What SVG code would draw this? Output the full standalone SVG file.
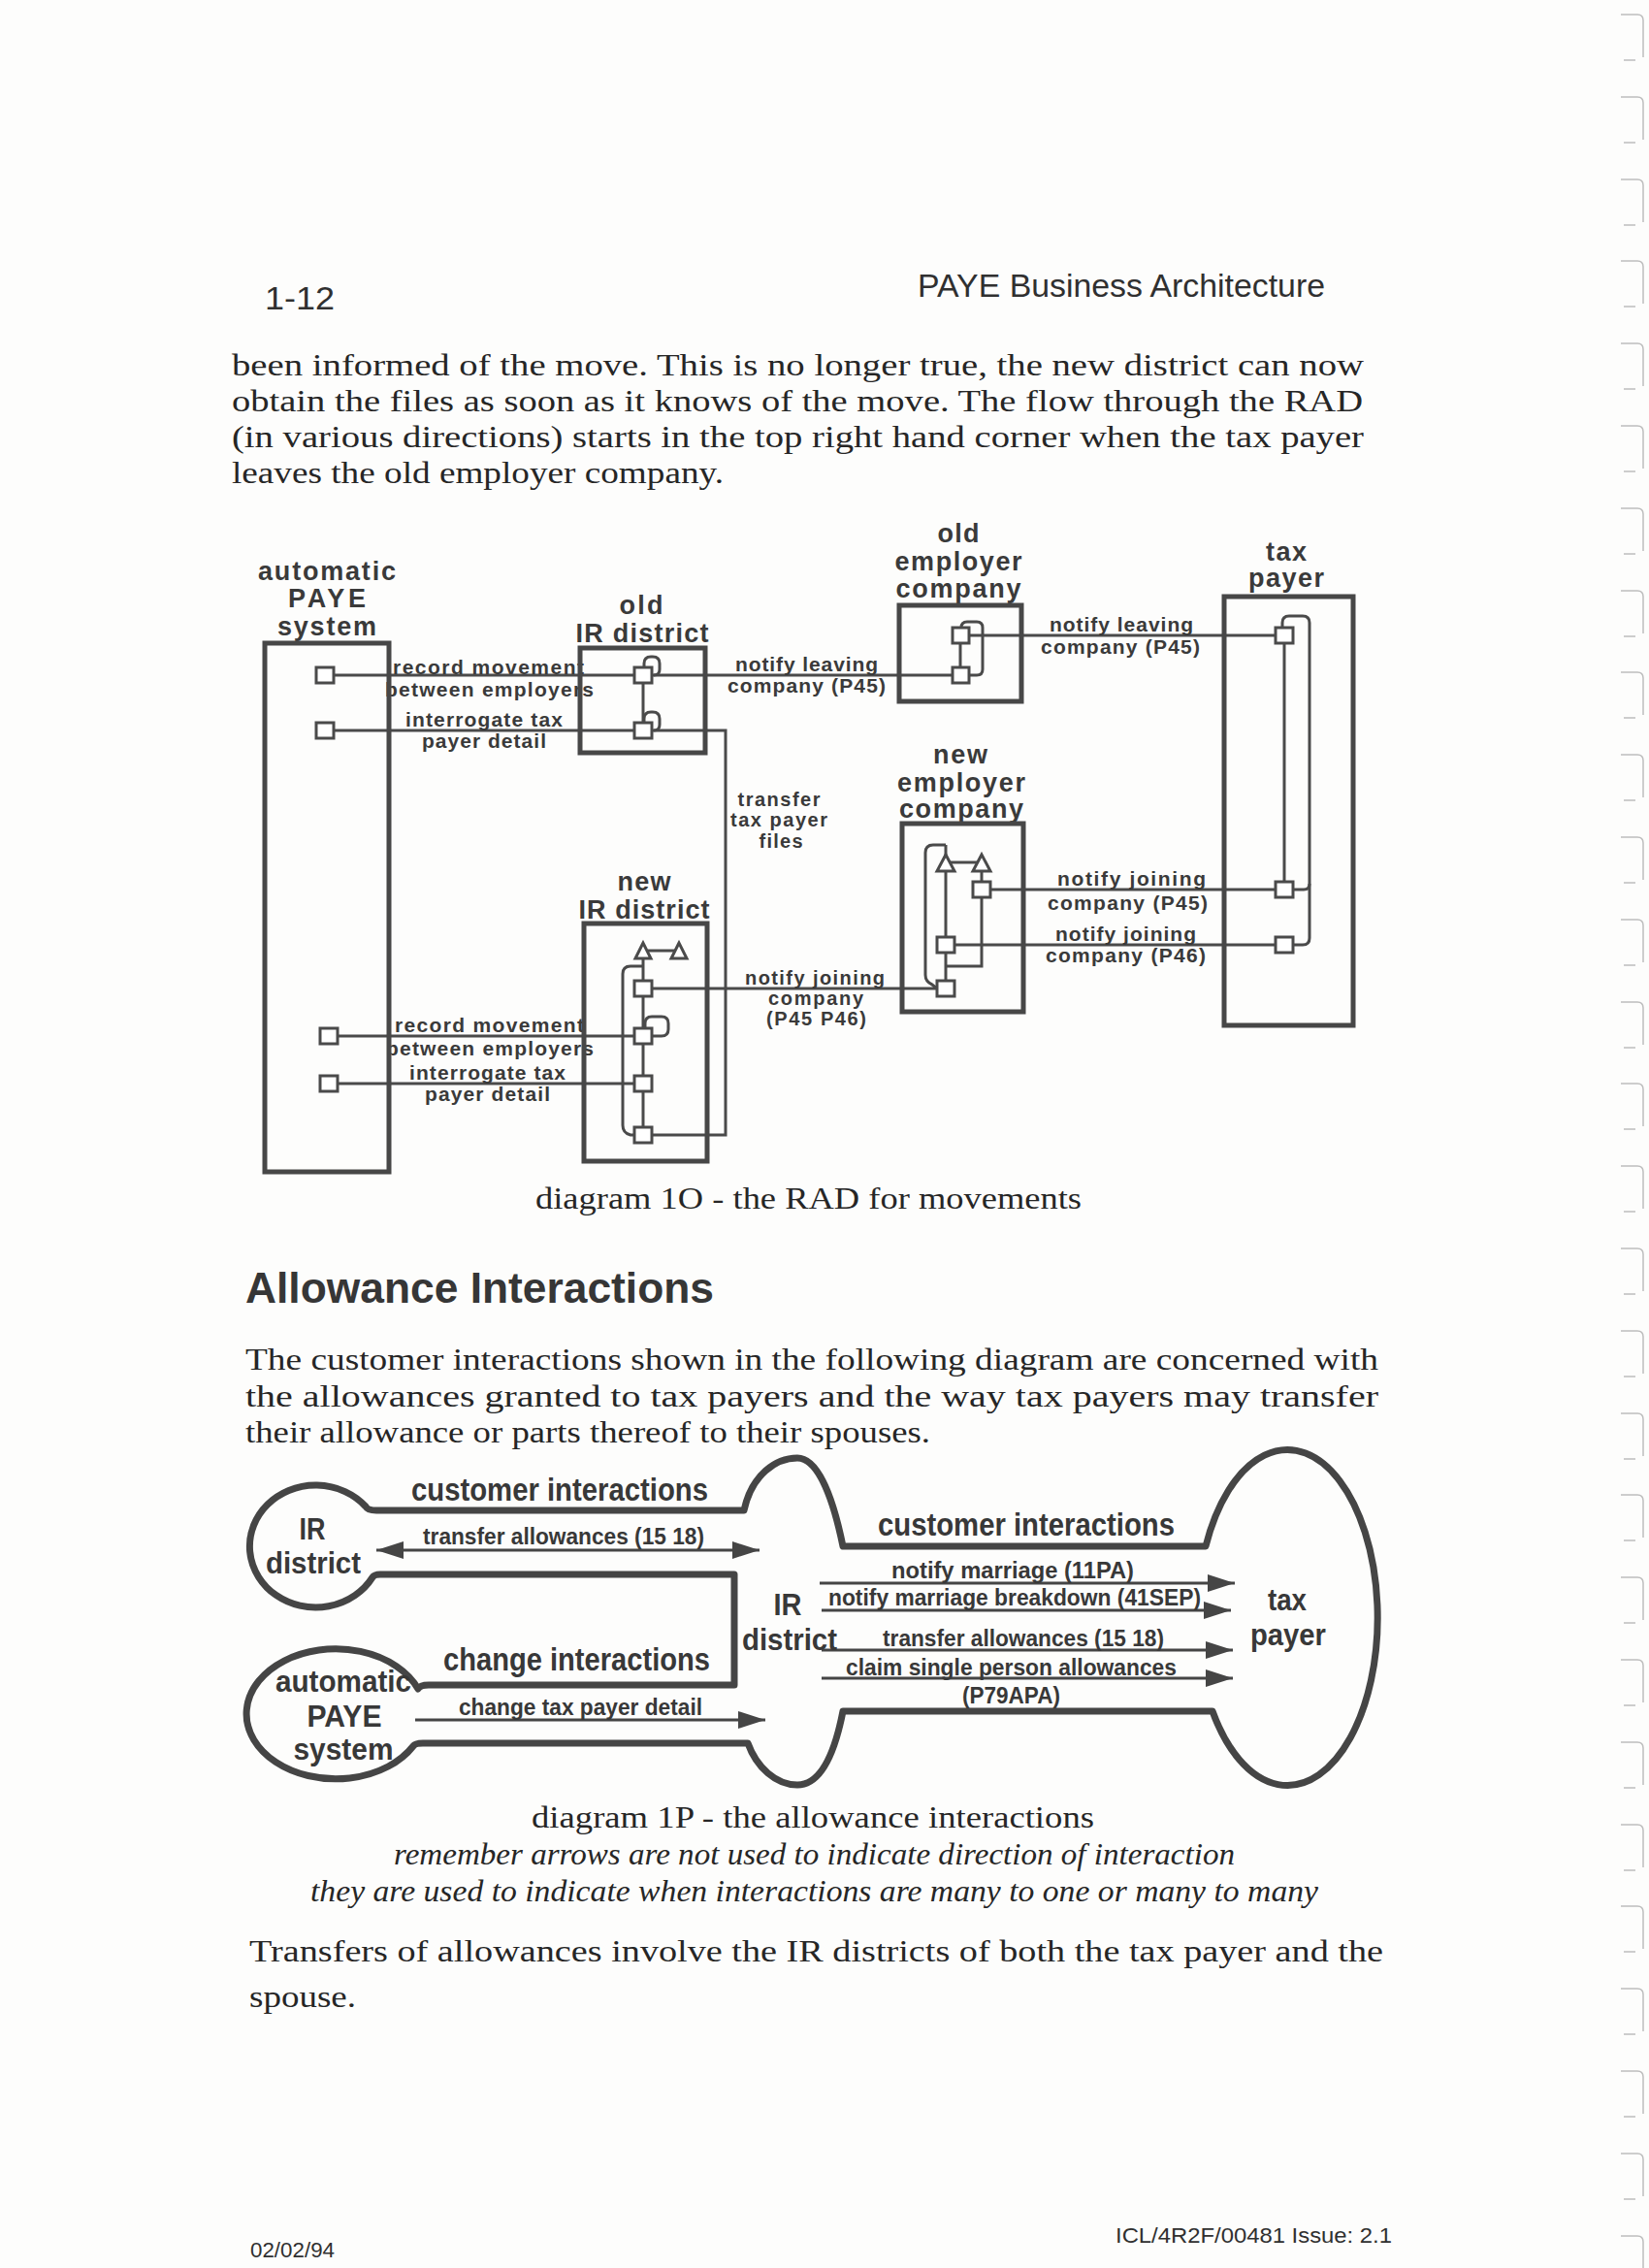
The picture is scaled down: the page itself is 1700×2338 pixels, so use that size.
<svg xmlns="http://www.w3.org/2000/svg" xmlns:xlink="http://www.w3.org/1999/xlink" width="1700" height="2338" viewBox="0 0 1700 2338">
<style>
.bg{fill:#fdfdfc}
.box{fill:none;stroke:#474747;stroke-width:5}
.ln{fill:none;stroke:#4a4a4a;stroke-width:3}
.sq{fill:#fff;stroke:#4a4a4a;stroke-width:3}
.tri{fill:#fff;stroke:#4a4a4a;stroke-width:3}
.nt{font-family:"Liberation Sans",Arial,sans-serif;font-weight:bold;font-size:27px;fill:#3a3a3a;text-anchor:middle}
.lb{font-family:"Liberation Sans",Arial,sans-serif;font-weight:bold;font-size:21px;fill:#3a3a3a}
.lbs{font-family:"Liberation Sans",Arial,sans-serif;font-weight:bold;font-size:20px;fill:#3a3a3a}
.lbm{font-family:"Liberation Sans",Arial,sans-serif;font-weight:bold;font-size:20px;fill:#3a3a3a;text-anchor:middle}
.ol{fill:none;stroke:#454545;stroke-width:7;stroke-linejoin:round}
.ar{fill:none;stroke:#454545;stroke-width:3}
.an{font-family:"Liberation Sans",Arial,sans-serif;font-weight:bold;font-size:32px;fill:#383838;text-anchor:middle}
.ah{font-family:"Liberation Sans",Arial,sans-serif;font-weight:bold;font-size:33px;fill:#383838}
.aa{font-family:"Liberation Sans",Arial,sans-serif;font-weight:bold;font-size:23px;fill:#383838}
.body{font-family:"Liberation Serif","Times New Roman",serif;font-size:31px;fill:#262626}
.it{font-style:italic}
.hd{font-family:"Liberation Sans",Arial,sans-serif;font-size:33px;fill:#303030}
.h2{font-family:"Liberation Sans",Arial,sans-serif;font-weight:bold;font-size:45px;fill:#363636}
.ft{font-family:"Liberation Sans",Arial,sans-serif;font-size:22px;fill:#303030}
.tab{fill:none;stroke:#bdbdbd;stroke-width:1.5}
</style>
<defs>
<marker id="ahd" markerUnits="userSpaceOnUse" markerWidth="28" markerHeight="18" viewBox="0 0 28 18" refX="28" refY="9" orient="auto-start-reverse">
<path d="M0 0 L28 9 L0 18 Z" fill="#454545"/>
</marker>
<path id="tabmark" d="M1671 0 H1688 Q1694 0 1694 6 V44 M1674 47 H1686"/>
</defs>
<rect class="bg" x="0" y="0" width="1700" height="2338"/>

<g id="page-tabs" class="tab">
<use href="#tabmark" y="15"/><use href="#tabmark" y="100"/><use href="#tabmark" y="185"/><use href="#tabmark" y="269"/>
<use href="#tabmark" y="354"/><use href="#tabmark" y="439"/><use href="#tabmark" y="524"/><use href="#tabmark" y="609"/>
<use href="#tabmark" y="693"/><use href="#tabmark" y="778"/><use href="#tabmark" y="863"/><use href="#tabmark" y="948"/>
<use href="#tabmark" y="1033"/><use href="#tabmark" y="1117"/><use href="#tabmark" y="1202"/><use href="#tabmark" y="1287"/>
<use href="#tabmark" y="1372"/><use href="#tabmark" y="1457"/><use href="#tabmark" y="1541"/><use href="#tabmark" y="1626"/>
<use href="#tabmark" y="1711"/><use href="#tabmark" y="1796"/><use href="#tabmark" y="1881"/><use href="#tabmark" y="1965"/>
<use href="#tabmark" y="2050"/><use href="#tabmark" y="2135"/><use href="#tabmark" y="2220"/><use href="#tabmark" y="2305"/>
</g>

<g id="page-header">
<text class="hd" x="273" y="319" textLength="72" lengthAdjust="spacingAndGlyphs">1-12</text>
<text class="hd" x="946" y="306" textLength="420" lengthAdjust="spacingAndGlyphs">PAYE Business Architecture</text>
</g>

<g id="para-1" class="body">
<text x="239" y="387" textLength="1167" lengthAdjust="spacingAndGlyphs">been informed of the move.  This is no longer true, the new district can now</text>
<text x="239" y="424" textLength="1166" lengthAdjust="spacingAndGlyphs">obtain the files as soon as it knows of the move.  The flow through the RAD</text>
<text x="239" y="461" textLength="1167" lengthAdjust="spacingAndGlyphs">(in various directions) starts in the top right hand corner when the tax payer</text>
<text x="239" y="498" textLength="507" lengthAdjust="spacingAndGlyphs">leaves the old employer company.</text>
</g>

<!-- ================= RAD diagram 1O ================= -->
<g id="rad-connectors">
<path class="ln" d="M344 696 H654"/>
<path class="ln" d="M672 696 H982"/>
<path class="ln" d="M344 753 H654"/>
<path class="ln" d="M672 753 H748 V1170 H672"/>
<path class="ln" d="M999 655 H1315"/>
<path class="ln" d="M1021 917 H1315"/>
<path class="ln" d="M984 974 H1315"/>
<path class="ln" d="M672 1019 H966"/>
<path class="ln" d="M348 1068 H654"/>
<path class="ln" d="M348 1117 H654"/>
</g>

<g id="rad-labels">
<text class="lb" x="405" y="695" textLength="197">record movement</text>
<text class="lb" x="397" y="718" textLength="215">between employers</text>
<text class="lb" x="418" y="749" textLength="162">interrogate tax</text>
<text class="lb" x="435" y="771" textLength="128">payer detail</text>
<text class="lb" x="407" y="1064" textLength="195">record movement</text>
<text class="lb" x="398" y="1088" textLength="214">between employers</text>
<text class="lb" x="422" y="1113" textLength="161">interrogate tax</text>
<text class="lb" x="438" y="1135" textLength="129">payer detail</text>
<text class="lb" x="758" y="692" textLength="147">notify leaving</text>
<text class="lb" x="750" y="714" textLength="163">company (P45)</text>
<text class="lb" x="1082" y="651" textLength="148">notify leaving</text>
<text class="lb" x="1073" y="674" textLength="164">company (P45)</text>
<text class="lbm" x="803" y="831" textLength="85">transfer</text>
<text class="lbm" x="803" y="852" textLength="100">tax payer</text>
<text class="lbm" x="805" y="874" textLength="45">files</text>
<text class="lbs" x="768" y="1015" textLength="144">notify joining</text>
<text class="lbs" x="792" y="1036" textLength="98">company</text>
<text class="lbs" x="790" y="1057" textLength="103">(P45 P46)</text>
<text class="lb" x="1090" y="913" textLength="153">notify joining</text>
<text class="lb" x="1080" y="938" textLength="165">company (P45)</text>
<text class="lb" x="1088" y="970" textLength="145">notify joining</text>
<text class="lb" x="1078" y="992" textLength="165">company (P46)</text>
</g>

<g id="node-automatic-paye-system">
<text class="nt" x="337" y="598" textLength="142">automatic</text>
<text class="nt" x="337" y="626" textLength="80">PAYE</text>
<text class="nt" x="337" y="655" textLength="102">system</text>
<rect class="box" x="273" y="663" width="128" height="545"/>
<rect class="sq" x="326" y="688" width="18" height="16"/>
<rect class="sq" x="326" y="745" width="18" height="16"/>
<rect class="sq" x="330" y="1060" width="18" height="16"/>
<rect class="sq" x="330" y="1109" width="18" height="16"/>
</g>

<g id="node-old-ir-district">
<text class="nt" x="661" y="633" textLength="45">old</text>
<text class="nt" x="662" y="662" textLength="137">IR district</text>
<rect class="box" x="598" y="668" width="129" height="108"/>
<path class="ln" d="M663 704 V745"/>
<path class="ln" d="M664 688 V684 Q664 677 671 677 H673 Q680 677 680 684 V690 Q680 696 674 696"/>
<path class="ln" d="M664 745 V741 Q664 734 671 734 H673 Q680 734 680 741 V747 Q680 753 674 753"/>
<rect class="sq" x="654" y="688" width="18" height="16"/>
<rect class="sq" x="654" y="745" width="18" height="16"/>
</g>

<g id="node-old-employer-company">
<text class="nt" x="988" y="559" textLength="43">old</text>
<text class="nt" x="988" y="588" textLength="131">employer</text>
<text class="nt" x="988" y="616" textLength="129">company</text>
<rect class="box" x="927" y="624" width="126" height="99"/>
<path class="ln" d="M990 663 V688"/>
<path class="ln" d="M991 647 V647 Q991 641 997 641 H1007 Q1013 641 1013 647 V690 Q1013 696 1007 696 H999"/>
<rect class="sq" x="982" y="647" width="17" height="16"/>
<rect class="sq" x="982" y="688" width="17" height="16"/>
</g>

<g id="node-tax-payer">
<text class="nt" x="1326" y="578" textLength="42">tax</text>
<text class="nt" x="1326" y="605" textLength="78">payer</text>
<rect class="box" x="1262" y="615" width="133" height="442"/>
<path class="ln" d="M1324 663 V909"/>
<path class="ln" d="M1322 647 V642 Q1322 635 1329 635 H1343 Q1350 635 1350 642 V967 Q1350 974 1343 974 H1333"/>
<path class="ln" d="M1333 917 H1344 Q1350 917 1350 911"/>
<rect class="sq" x="1315" y="647" width="18" height="16"/>
<rect class="sq" x="1315" y="909" width="18" height="16"/>
<rect class="sq" x="1315" y="966" width="18" height="16"/>
</g>

<g id="node-new-employer-company">
<text class="nt" x="990" y="787" textLength="56">new</text>
<text class="nt" x="991" y="816" textLength="132">employer</text>
<text class="nt" x="991" y="843" textLength="128">company</text>
<rect class="box" x="930" y="849" width="125" height="194"/>
<path class="ln" d="M975 871 V1011"/>
<path class="ln" d="M975 871 H962 Q954 871 954 879 V1005 Q954 1012 961 1015 L966 1019"/>
<path class="ln" d="M979 889 H1007"/>
<path class="ln" d="M1012 898 V909"/>
<path class="ln" d="M1012 925 V996 H975"/>
<polygon class="tri" points="975,881 966,898 984,898"/>
<polygon class="tri" points="1012,881 1003,898 1021,898"/>
<rect class="sq" x="1003" y="909" width="18" height="16"/>
<rect class="sq" x="966" y="966" width="18" height="16"/>
<rect class="sq" x="966" y="1011" width="18" height="16"/>
</g>

<g id="node-new-ir-district">
<text class="nt" x="664" y="918" textLength="55">new</text>
<text class="nt" x="664" y="947" textLength="135">IR district</text>
<rect class="box" x="602" y="952" width="127" height="245"/>
<path class="ln" d="M663 988 V1162"/>
<path class="ln" d="M663 996 H650 Q642 996 642 1004 V1160 Q642 1168 650 1170 H654"/>
<path class="ln" d="M668 980 H696"/>
<path class="ln" d="M665 1060 V1055 Q665 1048 672 1048 H682 Q689 1048 689 1055 V1061 Q689 1068 682 1068 H672"/>
<polygon class="tri" points="663,972 655,988 671,988"/>
<polygon class="tri" points="700,972 692,988 708,988"/>
<rect class="sq" x="654" y="1011" width="18" height="16"/>
<rect class="sq" x="654" y="1060" width="18" height="16"/>
<rect class="sq" x="654" y="1109" width="18" height="16"/>
<rect class="sq" x="654" y="1162" width="18" height="16"/>
</g>

<text class="body" x="552" y="1246" textLength="563" lengthAdjust="spacingAndGlyphs">diagram 1O - the RAD for movements</text>

<text class="h2" x="253" y="1343" textLength="483" lengthAdjust="spacingAndGlyphs">Allowance Interactions</text>

<g id="para-2" class="body">
<text x="253" y="1412" textLength="1168" lengthAdjust="spacingAndGlyphs">The customer interactions shown in the following diagram are concerned with</text>
<text x="253" y="1450" textLength="1168" lengthAdjust="spacingAndGlyphs">the allowances granted to tax payers and the way tax payers may transfer</text>
<text x="253" y="1487" textLength="706" lengthAdjust="spacingAndGlyphs">their allowance or parts thereof to their spouses.</text>
</g>

<!-- ================= Allowance diagram 1P ================= -->
<g id="allowance-outline">
<path class="ol" d="M388 1557 H767 C775 1520 800 1503 822 1503 C845 1503 860 1550 869 1594 H1243 A93 173 0 1 1 1250 1764 H869 C860 1810 845 1840 822 1840 C800 1840 780 1822 771 1797 H436 Q428 1797 426 1800 A92 67 0 1 1 431 1741 Q433 1737 442 1737 H757 V1623 H392 Q386 1623 384 1626 A68 63 0 1 1 377 1553 Q379 1557 388 1557 Z"/>
</g>

<g id="allowance-connectors">
<path class="ar" d="M388 1598 H783" marker-start="url(#ahd)" marker-end="url(#ahd)"/>
<path class="ar" d="M428 1773 H789" marker-end="url(#ahd)"/>
<path class="ar" d="M845 1632 H1273" marker-end="url(#ahd)"/>
<path class="ar" d="M847 1660 H1269" marker-end="url(#ahd)"/>
<path class="ar" d="M847 1701 H1271" marker-end="url(#ahd)"/>
<path class="ar" d="M847 1730 H1271" marker-end="url(#ahd)"/>
</g>

<g id="node-ir-district-left">
<text class="an" x="322" y="1587" textLength="27" lengthAdjust="spacingAndGlyphs">IR</text>
<text class="an" x="323" y="1622" textLength="98" lengthAdjust="spacingAndGlyphs">district</text>
</g>
<g id="node-automatic-paye">
<text class="an" x="354" y="1744" textLength="140" lengthAdjust="spacingAndGlyphs">automatic</text>
<text class="an" x="355" y="1780" textLength="77" lengthAdjust="spacingAndGlyphs">PAYE</text>
<text class="an" x="354" y="1814" textLength="103" lengthAdjust="spacingAndGlyphs">system</text>
</g>
<g id="node-ir-district-mid">
<text class="an" x="812" y="1665" textLength="29" lengthAdjust="spacingAndGlyphs">IR</text>
<text class="an" x="814" y="1701" textLength="98" lengthAdjust="spacingAndGlyphs">district</text>
</g>
<g id="node-tax-payer-ellipse">
<text class="an" x="1327" y="1660" textLength="40" lengthAdjust="spacingAndGlyphs">tax</text>
<text class="an" x="1328" y="1696" textLength="78" lengthAdjust="spacingAndGlyphs">payer</text>
</g>

<g id="allowance-labels">
<text class="ah" x="424" y="1547" textLength="306" lengthAdjust="spacingAndGlyphs">customer interactions</text>
<text class="aa" x="436" y="1592" textLength="290" lengthAdjust="spacingAndGlyphs">transfer allowances (15 18)</text>
<text class="ah" x="457" y="1722" textLength="275" lengthAdjust="spacingAndGlyphs">change interactions</text>
<text class="aa" x="473" y="1768" textLength="251" lengthAdjust="spacingAndGlyphs">change tax payer detail</text>
<text class="ah" x="905" y="1583" textLength="306" lengthAdjust="spacingAndGlyphs">customer interactions</text>
<text class="aa" x="919" y="1627" textLength="250" lengthAdjust="spacingAndGlyphs">notify marriage  (11PA)</text>
<text class="aa" x="854" y="1655" textLength="384" lengthAdjust="spacingAndGlyphs">notify marriage breakdown (41SEP)</text>
<text class="aa" x="910" y="1697" textLength="290" lengthAdjust="spacingAndGlyphs">transfer allowances (15 18)</text>
<text class="aa" x="872" y="1727" textLength="341" lengthAdjust="spacingAndGlyphs">claim single person allowances</text>
<text class="aa" x="992" y="1756" textLength="101" lengthAdjust="spacingAndGlyphs">(P79APA)</text>
</g>

<g id="captions" class="body">
<text x="548" y="1884" textLength="580" lengthAdjust="spacingAndGlyphs">diagram 1P - the allowance interactions</text>
<text class="it" x="406" y="1922" textLength="867" lengthAdjust="spacingAndGlyphs">remember arrows are not used to indicate direction of interaction</text>
<text class="it" x="320" y="1960" textLength="1039" lengthAdjust="spacingAndGlyphs">they are used to indicate when interactions are many to one or many to many</text>
<text x="257" y="2022" textLength="1169" lengthAdjust="spacingAndGlyphs">Transfers of allowances involve the IR districts of both the tax payer and the</text>
<text x="257" y="2069" textLength="110" lengthAdjust="spacingAndGlyphs">spouse.</text>
</g>

<g id="page-footer">
<text class="ft" x="258" y="2327" textLength="87" lengthAdjust="spacingAndGlyphs">02/02/94</text>
<text class="ft" x="1150" y="2312" textLength="285" lengthAdjust="spacingAndGlyphs">ICL/4R2F/00481  Issue:  2.1</text>
</g>
</svg>
